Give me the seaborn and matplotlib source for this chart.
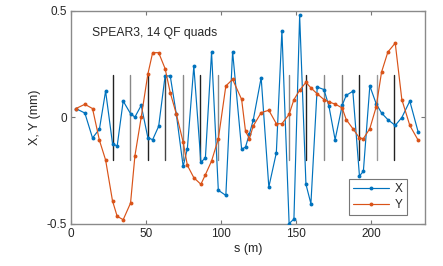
import numpy as np
import pandas as pd
import seaborn as sns
import matplotlib
matplotlib.use("Agg")
import matplotlib.pyplot as plt

# BPM positions (m) and orbit readings (mm)
s_bpm = [3.3, 9.3, 14.4, 19.0, 23.1, 27.7, 30.8, 34.8, 39.7, 42.6,
         46.8, 51.2, 54.4, 58.4, 62.7, 66.1, 70.1, 74.7, 77.5, 81.8,
         86.5, 89.5, 93.6, 98.1, 103.1, 107.6, 113.6, 116.2, 118.8, 121.3,
         126.6, 131.7, 136.7, 140.4, 145.2, 148.4, 152.2, 156.4, 159.7, 163.9,
         168.4, 171.7, 175.8, 180.5, 183.2, 187.6, 192.0, 194.6, 198.9, 203.1,
         206.7, 210.9, 215.8, 220.2, 225.5, 231.1]
x_orbit = [0.041, 0.020, -0.097, -0.055, 0.123, -0.123, -0.135, 0.076, 0.017, 0.001,
           0.056, -0.095, -0.105, -0.042, 0.194, 0.194, 0.017, -0.230, -0.147, 0.240,
           -0.211, -0.190, 0.305, -0.342, -0.366, 0.308, -0.150, -0.139, -0.077, -0.014,
           0.186, -0.327, -0.166, 0.406, -0.498, -0.477, 0.478, -0.314, -0.405, 0.142,
           0.130, 0.052, -0.105, 0.056, 0.103, 0.122, -0.275, -0.253, 0.147, 0.064,
           0.020, -0.011, -0.038, -0.001, 0.076, -0.070]
y_orbit = [0.041, 0.061, 0.041, -0.108, -0.200, -0.392, -0.464, -0.480, -0.402, -0.181,
           0.001, 0.202, 0.303, 0.303, 0.228, 0.116, 0.017, -0.116, -0.225, -0.283,
           -0.314, -0.269, -0.205, -0.101, 0.147, 0.178, 0.084, -0.066, -0.100, -0.041,
           0.022, 0.033, -0.030, -0.030, 0.014, 0.083, 0.127, 0.164, 0.138, 0.110,
           0.083, 0.072, 0.062, 0.044, -0.011, -0.053, -0.097, -0.100, -0.053, 0.048,
           0.212, 0.306, 0.348, 0.083, -0.038, -0.108]

# QF quad locations (m) and their marker shade
s_qf = [27.7, 39.3, 51.0, 62.7, 74.3, 86.0, 97.6,
        145.0, 156.7, 168.3, 180.1, 191.8, 203.4, 215.1]
qf_shade = ["#222222", "#888888", "#222222", "#444444", "#888888", "#222222", "#888888",
            "#888888", "#222222", "#888888", "#777777", "#222222", "#999999", "#222222"]

df = pd.DataFrame({
    "s": s_bpm * 2,
    "orbit": x_orbit + y_orbit,
    "plane": ["X"] * len(s_bpm) + ["Y"] * len(s_bpm),
})

sns.set_style("ticks")
plt.rcParams["font.family"] = ["Liberation Sans", "DejaVu Sans"]

fig = plt.figure(figsize=(4.43, 2.66), dpi=100)
ax = fig.add_axes([0.160, 0.158, 0.799, 0.802])

for sq, c in zip(s_qf, qf_shade):
    ax.plot([sq, sq], [-0.2, 0.2], color=c, lw=1.0, zorder=1)

sns.lineplot(data=df, x="s", y="orbit", hue="plane", sort=False,
             palette={"X": "#0072BD", "Y": "#D95319"},
             marker="o", markersize=2.8, markeredgewidth=0, lw=0.85, ax=ax, zorder=3)

ax.set_xlim(0, 235.5)
ax.set_ylim(-0.5, 0.5)
ax.set_xticks([0, 50, 100, 150, 200])
ax.set_yticks([-0.5, 0, 0.5])
ax.set_yticklabels(["-0.5", "0", "0.5"])
ax.set_xlabel("s (m)", fontsize=9, labelpad=2)
ax.set_ylabel("X, Y (mm)", fontsize=9, labelpad=4)
ax.tick_params(direction="in", length=3, width=0.8, labelsize=8.5, color="#777777",
               labelcolor="#262626", top=True, right=True, pad=3)
for sp in ax.spines.values():
    sp.set_visible(True)
    sp.set_color("#8a8a8a")
    sp.set_linewidth(1.0)

ax.text(13.8, 0.394, "SPEAR3, 14 QF quads", fontsize=8.7, va="center", ha="left")

handles, labels = ax.get_legend_handles_labels()
leg = ax.legend(handles, labels, loc="lower right", bbox_to_anchor=(0.949, 0.042),
                borderaxespad=0, fontsize=8.5, frameon=True, fancybox=False,
                handlelength=3.0, handletextpad=0.5, borderpad=0.35, labelspacing=0.3)
leg.get_frame().set_edgecolor("#555555")
leg.get_frame().set_linewidth(0.8)

fig.savefig("out.png", dpi=100)
